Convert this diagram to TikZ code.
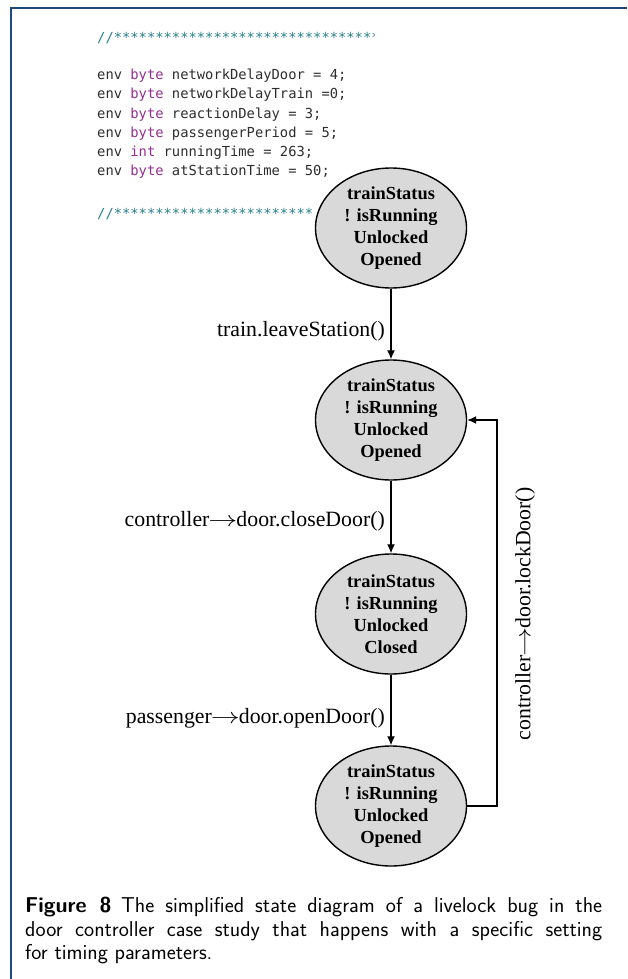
\documentclass[tikz,border=0pt]{standalone}
\usepackage{fontspec}
\setmainfont{Liberation Serif}
\newfontfamily\codefont{DejaVu Sans Mono}
\usetikzlibrary{shapes.geometric,arrows.meta}

\definecolor{framecol}{RGB}{31,73,125}
\definecolor{kwcol}{RGB}{150,45,145}
\definecolor{cmtcol}{RGB}{40,128,140}
\definecolor{codetxt}{RGB}{45,45,45}
\definecolor{statefill}{RGB}{217,217,217}

\tikzset{
  state/.style={ellipse, draw=black, line width=1.4pt, fill=statefill,
    minimum width=151pt, minimum height=120pt, inner sep=0pt, align=center,
    font=\fontsize{18.4}{21.8}\selectfont\bfseries},
  trans/.style={line width=1.3pt, -{Latex[length=9pt,width=8pt]}},
  tlabel/.style={font=\fontsize{21.8}{24}\selectfont, inner sep=0pt},
  codeline/.style={anchor=base west, inner sep=0pt, text=codetxt,
    font=\codefont\fontsize{13.8}{16}\selectfont},
}
\newcommand{\kw}[1]{\textcolor{kwcol}{#1}}
\newcommand{\arr}{\kern-1pt\scalebox{1.4}[1.05]{\ensuremath{\rightarrow}}\kern-1pt}

\begin{document}
\begin{tikzpicture}[x=1pt,y=-1pt]
\useasboundingbox (0,0) rectangle (627,979);

% frame
\draw[framecol, line width=1.6pt] (11,979) -- (11,8) -- (627,8);

% code listing
\begin{scope}
  \clip (90,20) rectangle (374,230);
  \node[codeline, text=cmtcol] (c0) at (97,43) {//**********************************};
  \node[codeline] (c1) at (97,80) {env \kw{byte} networkDelayDoor = 4;};
  \node[codeline] (c2) at (97,99) {env \kw{byte} networkDelayTrain =0;};
  \node[codeline] (c3) at (97,118) {env \kw{byte} reactionDelay = 3;};
  \node[codeline] (c4) at (97,137) {env \kw{byte} passengerPeriod = 5;};
  \node[codeline] (c5) at (97,156) {env \kw{int} runningTime = 263;};
  \node[codeline] (c6) at (97,175) {env \kw{byte} atStationTime = 50;};
  \node[codeline, text=cmtcol] (c7) at (97,218) {//************************};
\end{scope}

% states
\node[state] (s1) at (391,228) {trainStatus\\! isRunning\\Unlocked\\Opened};
\node[state] (s2) at (391,420) {trainStatus\\! isRunning\\Unlocked\\Opened};
\node[state] (s3) at (391,614) {trainStatus\\! isRunning\\Unlocked\\Closed};
\node[state] (s4) at (391,806) {trainStatus\\! isRunning\\Unlocked\\Opened};

% transitions
\draw[trans] (s1) -- (s2);
\draw[trans] (s2) -- (s3);
\draw[trans] (s3) -- (s4);
\coordinate (r1) at (497,806);
\coordinate (r2) at (497,420);
\draw[trans] (s4.east) -- (r1) -- (r2) -- (s2.east);

% transition labels
\node[tlabel, anchor=east] (l1) at (385,331) {train.leaveStation()};
\node[tlabel, anchor=east] (l2) at (385,521) {controller\arr door.closeDoor()};
\node[tlabel, anchor=east] (l3) at (385,718) {passenger\arr door.openDoor()};
\node[tlabel, rotate=90] (l4) at (525,614) {controller\arr door.lockDoor()};

% caption
\node[anchor=north west, inner sep=0pt, text width=577pt, align=justify,
  font=\sffamily\fontsize{21.5}{23.5}\selectfont] (cap) at (25,897)
  {\textbf{Figure 8}\hspace{0.45em}The simplified state diagram of a livelock bug in the\linebreak
   door controller case study that happens with a specific setting\linebreak
   for timing parameters.};
\end{tikzpicture}
\end{document}
